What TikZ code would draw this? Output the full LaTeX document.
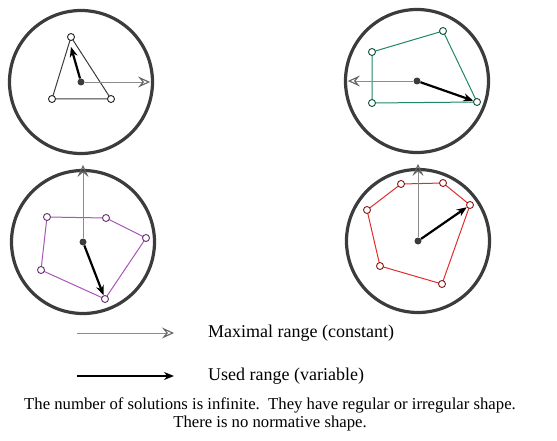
\documentclass[tikz,border=0pt]{standalone}
\usepackage{fontspec}
\setmainfont{Liberation Serif}
\usepackage{xcolor}
\definecolor{ringgray}{RGB}{60,60,60}
\definecolor{maxgray}{RGB}{140,140,140}
\definecolor{solgreen}{RGB}{30,135,105}
\definecolor{solpurple}{RGB}{170,85,185}
\definecolor{solred}{RGB}{225,45,45}
\usetikzlibrary{arrows.meta,positioning}

\tikzset{
  ring/.style={circle, draw=ringgray, line width=3.2pt, minimum size=143pt, inner sep=0pt},
  hub/.style={circle, fill=ringgray, minimum size=7pt, inner sep=0pt},
  vtx/.style={circle, draw=#1!60!black, fill=white, line width=0.9pt, minimum size=7pt, inner sep=0pt},
  maxarrow/.style={-{Stealth[open, length=12pt, width=11pt, inset=4.5pt, line width=1.1pt, color=ringgray!80]}, maxgray, line width=0.8pt},
  usedarrow/.style={-{Stealth[length=10pt, width=8pt]}, black, line width=2.2pt},
  poly/.style={line width=1pt, #1},
  legtext/.style={font=\fontsize{18}{21}\selectfont, anchor=west, inner sep=0pt}
}

\begin{document}
\begin{tikzpicture}[x=1pt, y=-1pt]
  \useasboundingbox (0,0) rectangle (557,441);
  % Circle 1: triangle
  \node[ring] (c1) at (81,82) {};
  \coordinate (a1) at (71,37);
  \coordinate (a2) at (52,99);
  \coordinate (a3) at (111,99);
  \draw[poly=ringgray] (a1) -- (a2) -- (a3) -- cycle;
  \foreach \p in {a1,a2,a3} \node[vtx=ringgray] (\p v) at (\p) {};
  \node[hub] (o1) at (81,82) {};
  \draw[maxarrow] (o1) -- ([xshift=-4pt]c1.east);
  \draw[usedarrow] (o1) -- ([yshift=-6pt]a1v.south);
  % Circle 2: quadrilateral
  \node[ring] (c2) at (417,81) {};
  \coordinate (b1) at (372,52);
  \coordinate (b2) at (443,31);
  \coordinate (b3) at (477,102);
  \coordinate (b4) at (372,103);
  \draw[poly=solgreen] (b1) -- (b2) -- (b3) -- (b4) -- cycle;
  \foreach \p in {b1,b2,b3,b4} \node[vtx=solgreen] (\p v) at (\p) {};
  \node[hub] (o2) at (417,81) {};
  \draw[maxarrow] (o2) -- ([xshift=4pt]c2.west);
  \draw[usedarrow] (o2) -- (b3v);
  % Circle 3: pentagon
  \node[ring] (c3) at (83,242) {};
  \coordinate (p1) at (47,217);
  \coordinate (p2) at (106,218);
  \coordinate (p3) at (146,238);
  \coordinate (p4) at (105,299);
  \coordinate (p5) at (41,270);
  \draw[poly=solpurple] (p1) -- (p2) -- (p3) -- (p4) -- (p5) -- cycle;
  \foreach \p in {p1,p2,p3,p4,p5} \node[vtx=solpurple] (\p v) at (\p) {};
  \node[hub] (o3) at (83,242) {};
  \draw[maxarrow] (o3) -- ([yshift=4pt]c3.north);
  \draw[usedarrow] (o3) -- (p4v);
  % Circle 4: hexagon
  \node[ring] (c4) at (418,241) {};
  \coordinate (h1) at (401,184);
  \coordinate (h2) at (443,183);
  \coordinate (h3) at (470,205);
  \coordinate (h4) at (442,284);
  \coordinate (h5) at (380,266);
  \coordinate (h6) at (367,210);
  \draw[poly=solred] (h1) -- (h2) -- (h3) -- (h4) -- (h5) -- (h6) -- cycle;
  \foreach \p in {h1,h2,h3,h4,h5,h6} \node[vtx=solred] (\p v) at (\p) {};
  \node[hub] (o4) at (418,241) {};
  \draw[maxarrow] (o4) -- ([yshift=4pt]c4.north);
  \draw[usedarrow] (o4) -- (h3v);
  % Legend
  \coordinate (lm0) at (77,333);
  \coordinate (lm1) at (174,333);
  \coordinate (lu0) at (77,376);
  \coordinate (lu1) at (174,376);
  \draw[maxarrow] (lm0) -- (lm1);
  \draw[usedarrow] (lu0) -- (lu1);
  \node[legtext] (lmt) at (208,333) {Maximal range (constant)};
  \node[legtext] (lut) at (208,376) {Used range (variable)};
  % Note
  \node[font=\fontsize{16.7}{18}\selectfont, align=center] (note) at (270,414) {The number of solutions is infinite.\ \ They have regular or irregular shape.\\There is no normative shape.};
\end{tikzpicture}
\end{document}
